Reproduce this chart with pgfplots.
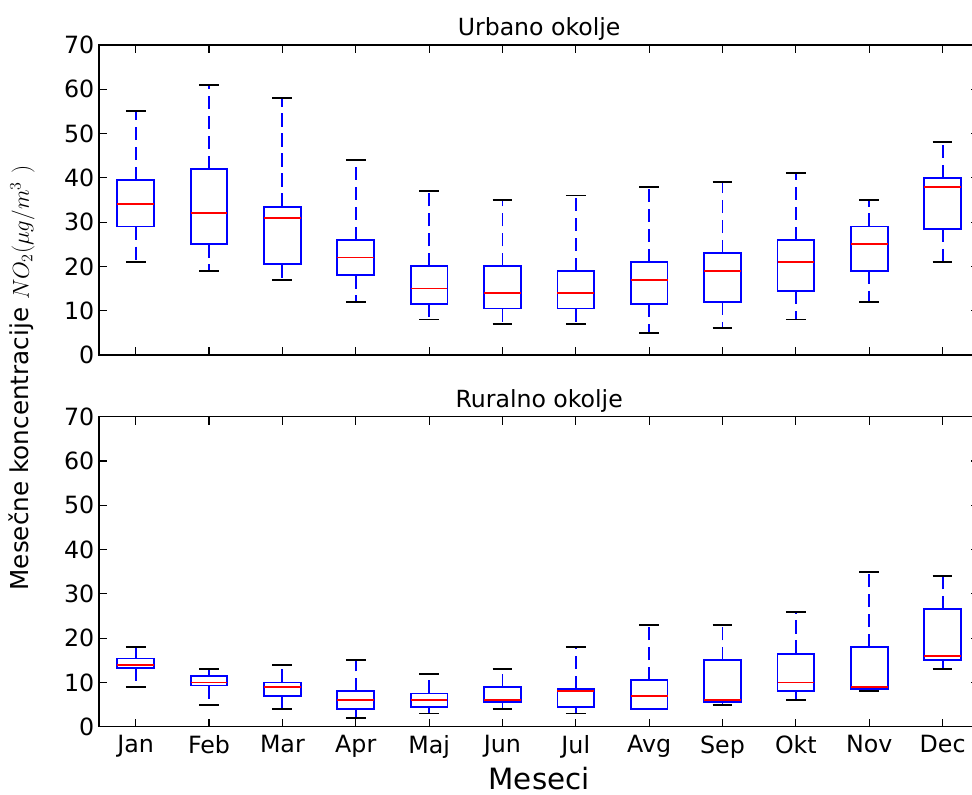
\documentclass[border=0pt]{standalone}
\usepackage{fontspec}
\setmainfont{DejaVu Sans}
\usepackage{pgfplots}
\usepgfplotslibrary{statistics}
\pgfplotsset{compat=1.18}
\pgfplotsset{
  mybox/.style={
    scale only axis,
    width=660.2pt, height=232.5pt,
    xmin=0.5, xmax=12.5, ymin=0, ymax=70,
    ytick={0,10,...,70},
    xtick={1,...,12},
    tick pos=both, tick align=inside,
    major tick length=6pt,
    axis line style={line width=1.1pt},
    every tick/.style={black, line width=0.9pt},
    /pgf/number format/assume math mode=true,
    tick label style={font=\fontsize{17.8}{20}\selectfont},
    xticklabel style={yshift=-3pt},
    title style={font=\fontsize{17.7}{20}\selectfont, at={(0.5,1)}, anchor=south, yshift=-6pt},
    boxplot/draw direction=y,
    boxplot/box extend=0.5,
    boxplot/whisker extend=0.27,
    boxplot/every box/.style={blue, line width=1.4pt},
    boxplot/every median/.style={red, line width=1.4pt},
    boxplot/draw/lower whisker/.code={
      \draw[blue, line width=1.4pt, dash pattern=on 10pt off 5pt]
        (boxplot box cs:\pgfplotsboxplotvalue{lower quartile},0.5) --
        (boxplot box cs:\pgfplotsboxplotvalue{lower whisker},0.5);
      \draw[black, line width=1.4pt]
        (boxplot whisker cs:\pgfplotsboxplotvalue{lower whisker},0) --
        (boxplot whisker cs:\pgfplotsboxplotvalue{lower whisker},1);
    },
    boxplot/draw/upper whisker/.code={
      \draw[blue, line width=1.4pt, dash pattern=on 10pt off 5pt]
        (boxplot box cs:\pgfplotsboxplotvalue{upper quartile},0.5) --
        (boxplot box cs:\pgfplotsboxplotvalue{upper whisker},0.5);
      \draw[black, line width=1.4pt]
        (boxplot whisker cs:\pgfplotsboxplotvalue{upper whisker},0) --
        (boxplot whisker cs:\pgfplotsboxplotvalue{upper whisker},1);
    },
  },
}
\newcommand{\bx}[6]{\addplot[blue, boxplot prepared={draw position=#1, lower whisker=#2, lower quartile=#3, median=#4, upper quartile=#5, upper whisker=#6}] coordinates {};}
\begin{document}
\begin{tikzpicture}
\useasboundingbox (0,0) rectangle (729pt,596.25pt);
\begin{axis}[mybox, at={(74.25pt,330pt)}, anchor=south west,
  xticklabels={}, title={Urbano okolje}]
\bx{1}{21}{29}{34}{39.5}{55}
\bx{2}{19}{25}{32}{42}{61}
\bx{3}{17}{20.5}{31}{33.5}{58}
\bx{4}{12}{18}{22}{26}{44}
\bx{5}{8}{11.5}{15}{20}{37}
\bx{6}{7}{10.5}{14}{20}{35}
\bx{7}{7}{10.5}{14}{19}{36}
\bx{8}{5}{11.5}{17}{21}{38}
\bx{9}{6}{12}{19}{23}{39}
\bx{10}{8}{14.5}{21}{26}{41}
\bx{11}{12}{19}{25}{29}{35}
\bx{12}{21}{28.5}{38}{40}{48}
\end{axis}
\begin{axis}[mybox, at={(74.25pt,51.2pt)}, anchor=south west,
  xticklabels={Jan,Feb,Mar,Apr,Maj,Jun,Jul,Avg,Sep,Okt,Nov,Dec},
  title={Ruralno okolje},
  xlabel={Meseci},
  xlabel style={font=\fontsize{22}{25}\selectfont, yshift=0.5pt}]
\bx{1}{9}{13.3}{14}{15.4}{18}
\bx{2}{5}{9.3}{10}{11.4}{13}
\bx{3}{4}{7}{9}{10}{14}
\bx{4}{2}{4}{6}{8}{15}
\bx{5}{3}{4.5}{6}{7.5}{12}
\bx{6}{4}{5.5}{6}{9}{13}
\bx{7}{3}{4.5}{8}{8.5}{18}
\bx{8}{4}{4}{7}{10.5}{23}
\bx{9}{5}{5.5}{6}{15}{23}
\bx{10}{6}{8}{10}{16.5}{26}
\bx{11}{8}{8.5}{9}{18}{35}
\bx{12}{13}{15}{16}{26.5}{34}
\end{axis}
\node[rotate=90, font=\fontsize{18.5}{21}\selectfont] at (16.5pt,312.75pt) {Mesečne koncentracije $NO_2 (\mu g/m^3\ )$};
\end{tikzpicture}
\end{document}
